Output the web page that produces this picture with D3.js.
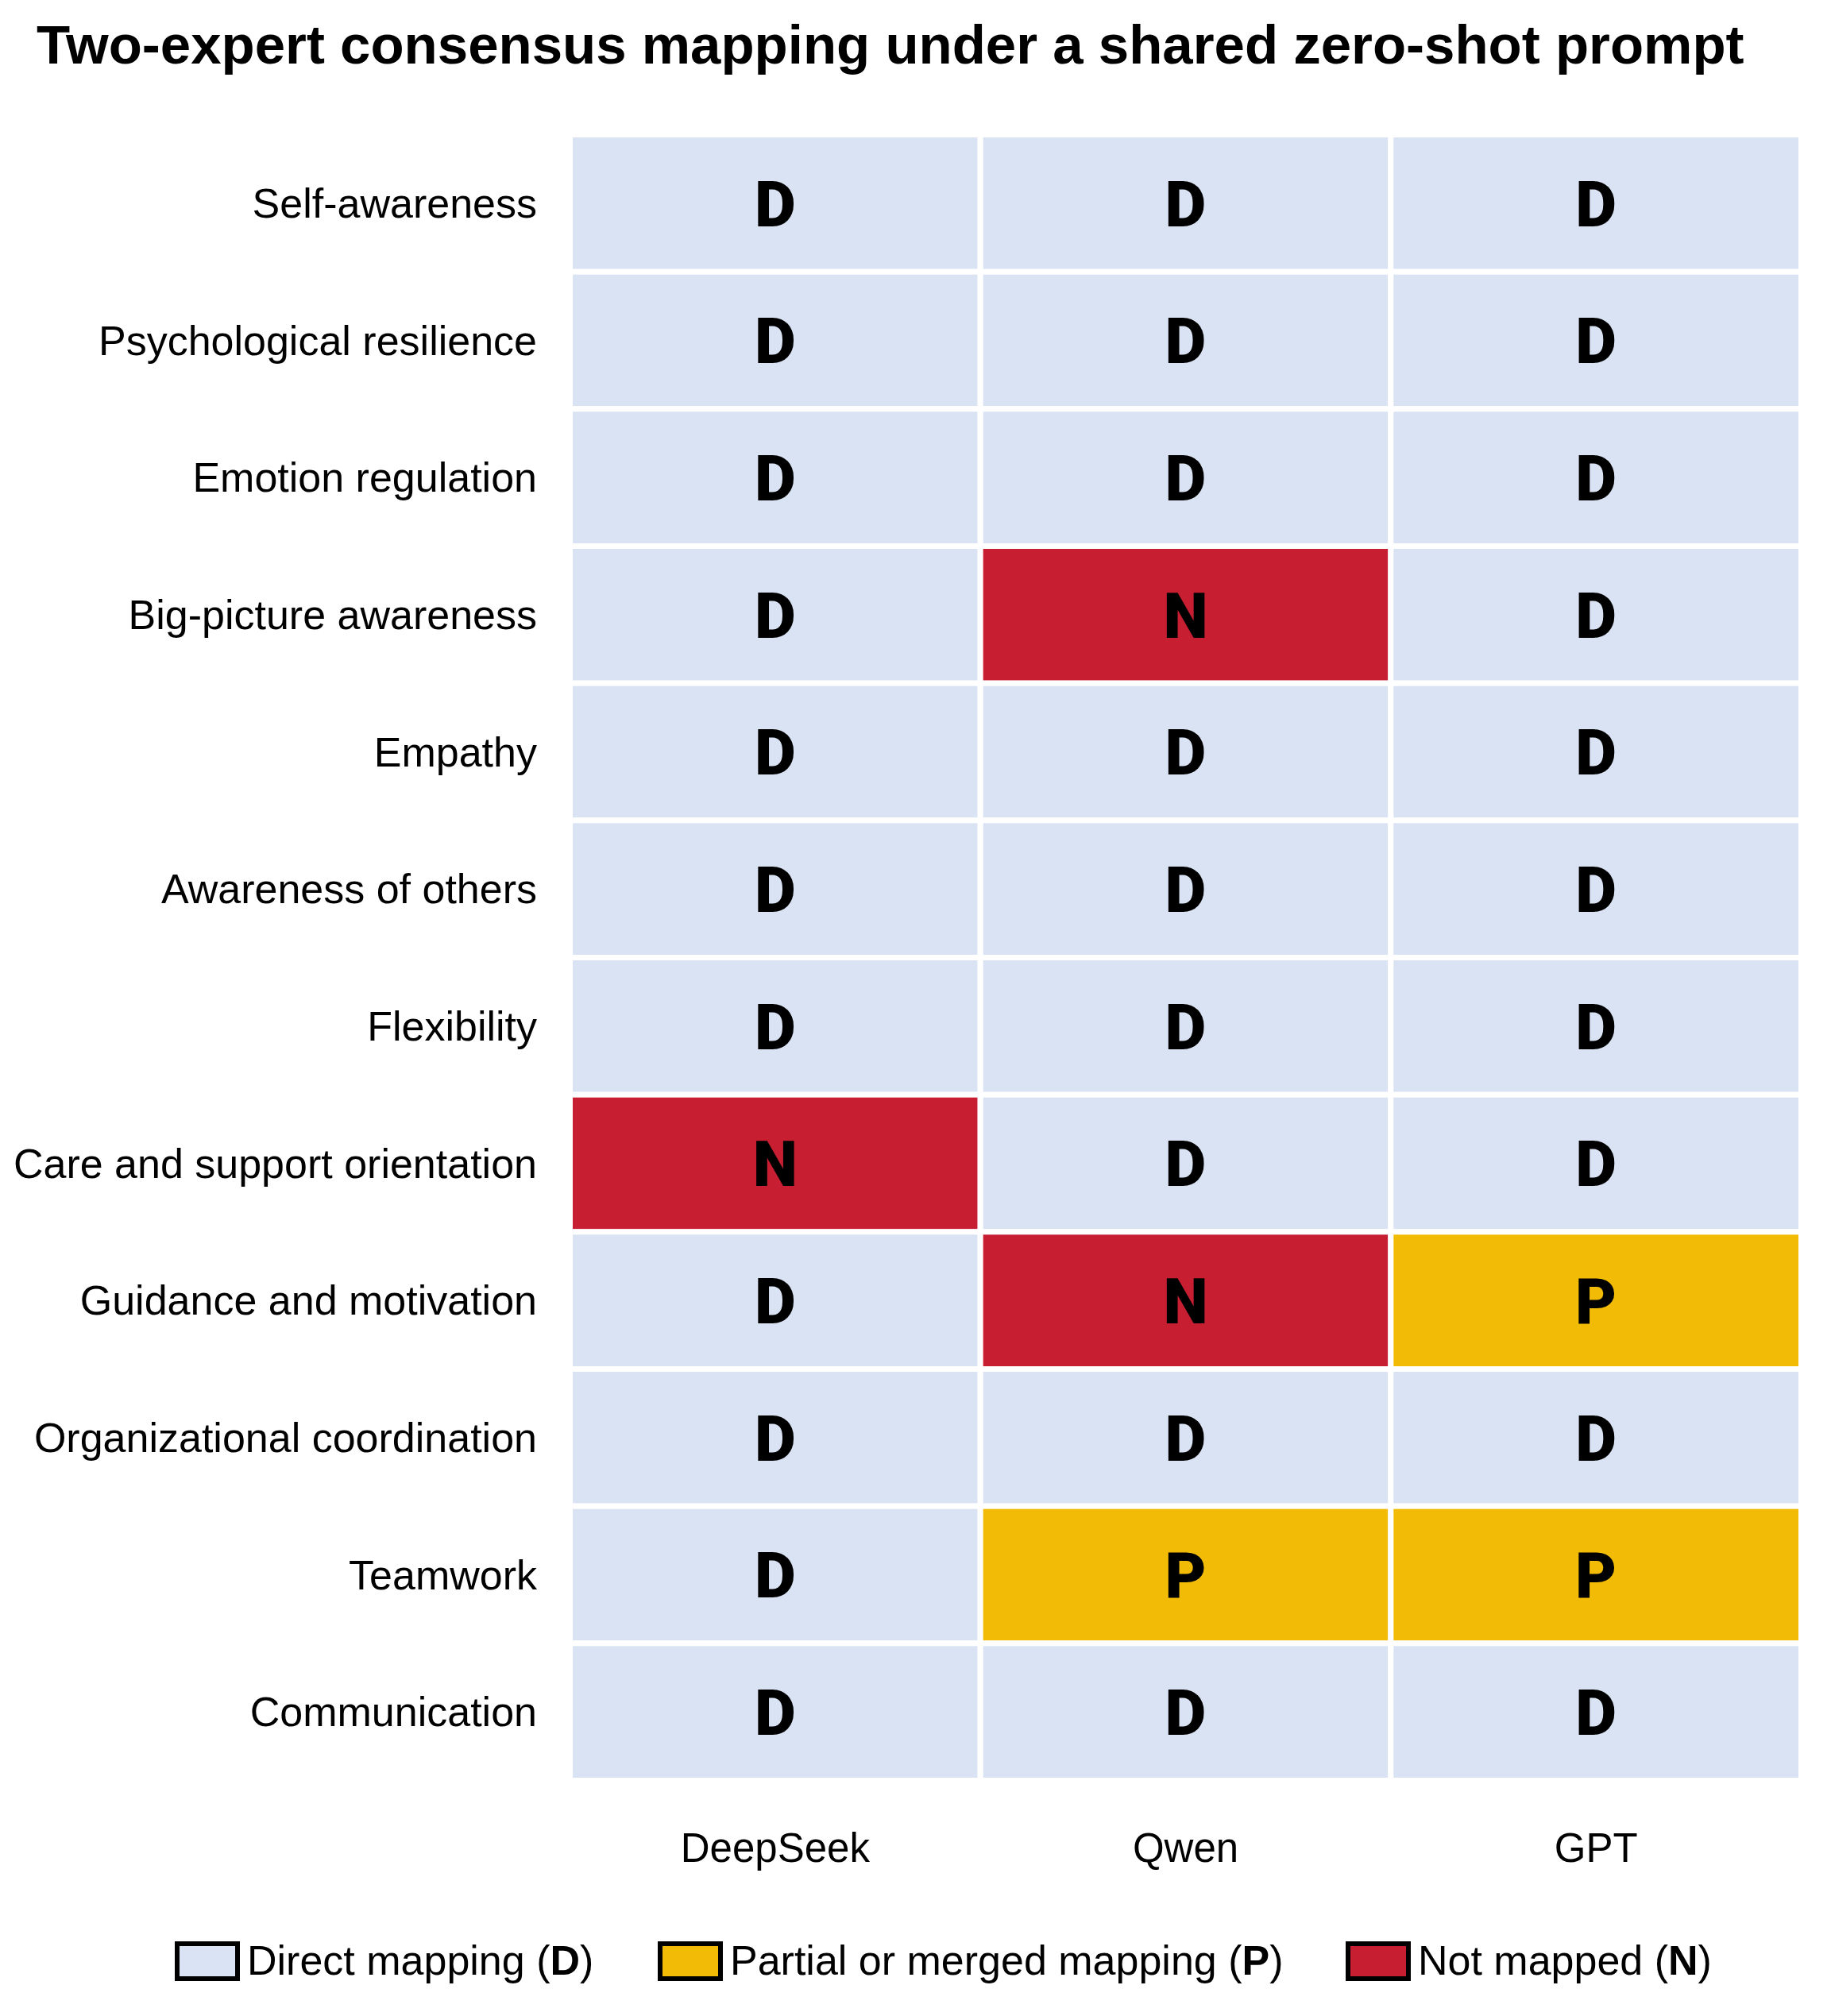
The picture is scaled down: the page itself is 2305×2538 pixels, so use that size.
<!DOCTYPE html>
<html>
<head>
<meta charset="utf-8">
<script src="https://cdn.jsdelivr.net/npm/d3@7"></script>
<style>
  body { margin: 0; background: #fff; }
  svg { display: block; }
</style>
</head>
<body>
<div id="chart"></div>
<script>
// Data
const competencies = [
    "Self-awareness", "Psychological resilience", "Emotion regulation",
    "Big-picture awareness", "Empathy", "Awareness of others", "Flexibility",
    "Care and support orientation", "Guidance and motivation",
    "Organizational coordination", "Teamwork", "Communication"
];
const models = ["DeepSeek", "Qwen", "GPT"];
const deepseekCodes = ["D", "D", "D", "D", "D", "D", "D", "N", "D", "D", "D", "D"];
const qwenCodes     = ["D", "D", "D", "N", "D", "D", "D", "D", "N", "D", "P", "D"];
const gptCodes      = ["D", "D", "D", "D", "D", "D", "D", "D", "P", "D", "P", "D"];
const codeKeys = ["D", "P", "N"];
const codeLabels = ["Direct mapping", "Partial or merged mapping", "Not mapped"];

const title = "Two-expert consensus mapping under a shared zero-shot prompt";

// Configuration
const width = 2305;
const height = 2538;
const textFont = "'Liberation Sans', Arial, sans-serif";
const codeFont = "Roboto, 'Noto Sans', sans-serif";

const color = d3.scaleOrdinal()
    .domain(codeKeys)
    .range(["#dae3f3", "#f2bb05", "#c81e32"]);

// Build cells
const codesByModel = [deepseekCodes, qwenCodes, gptCodes];
const cells = [];
models.forEach((m, j) => {
    competencies.forEach((c, i) => {
        cells.push({ model: m, competency: c, code: codesByModel[j][i] });
    });
});

const x = d3.scaleBand().domain(models).range([717.5, 2267.5]);
const y = d3.scaleBand().domain(competencies).range([169.5, 2241.5]);

const svg = d3.select("#chart")
    .append("svg")
    .attr("width", width)
    .attr("height", height);

// Title
svg.append("text")
    .attr("x", 46)
    .attr("y", 80)
    .attr("font-family", textFont)
    .attr("font-weight", "bold")
    .attr("font-size", 69)
    .text(title);

// Cells
svg.append("g").selectAll("rect")
    .data(cells)
    .join("rect")
    .attr("x", d => x(d.model))
    .attr("y", d => y(d.competency))
    .attr("width", x.bandwidth())
    .attr("height", y.bandwidth())
    .attr("fill", d => color(d.code))
    .attr("stroke", "#fff")
    .attr("stroke-width", 7);

svg.append("g").selectAll("text")
    .data(cells)
    .join("text")
    .attr("x", d => x(d.model) + x.bandwidth() / 2)
    .attr("y", d => y(d.competency) + y.bandwidth() / 2)
    .attr("dy", "0.36em")
    .attr("text-anchor", "middle")
    .attr("font-family", codeFont)
    .attr("font-weight", 900)
    .attr("font-size", 80)
    .text(d => d.code);

// Row labels
svg.append("g").selectAll("text")
    .data(competencies)
    .join("text")
    .attr("x", 676)
    .attr("y", d => y(d) + y.bandwidth() / 2)
    .attr("dy", "0.35em")
    .attr("text-anchor", "end")
    .attr("font-family", textFont)
    .attr("font-size", 52)
    .text(d => d);

// Column labels
svg.append("g").selectAll("text")
    .data(models)
    .join("text")
    .attr("x", d => x(d) + x.bandwidth() / 2)
    .attr("y", 2344)
    .attr("text-anchor", "middle")
    .attr("font-family", textFont)
    .attr("font-size", 51)
    .text(d => d);

// Legend
const legendX = [223, 831, 1697];
const legend = svg.append("g").selectAll("g")
    .data(codeKeys)
    .join("g")
    .attr("transform", (d, i) => `translate(${legendX[i]},2447)`);

legend.append("rect")
    .attr("width", 76)
    .attr("height", 44)
    .attr("fill", d => color(d))
    .attr("stroke", "#000")
    .attr("stroke-width", 6);

const lt = legend.append("text")
    .attr("x", 88)
    .attr("y", 39)
    .attr("font-family", textFont)
    .attr("font-size", 52);
lt.append("tspan").text((d, i) => codeLabels[i] + " (");
lt.append("tspan").attr("font-weight", "bold").text(d => d);
lt.append("tspan").text(")");
</script>
</body>
</html>
